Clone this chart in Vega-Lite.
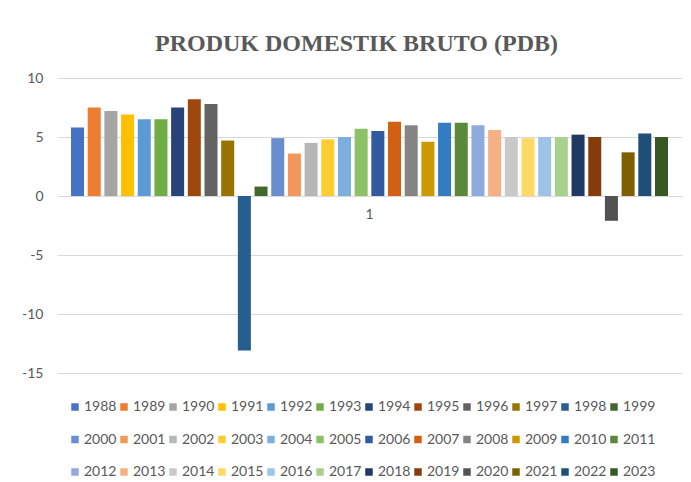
{
  "$schema": "https://vega.github.io/schema/vega-lite/v6.json",
  "width": 625,
  "height": 295,
  "autosize": {"type": "none"},
  "padding": {"left": 57, "top": 78, "right": 9, "bottom": 109},
  "background": "white",
  "title": {
    "text": "PRODUK DOMESTIK BRUTO (PDB)",
    "font": "Liberation Serif",
    "fontSize": 24,
    "fontWeight": "bold",
    "color": "#595959",
    "anchor": "middle",
    "baseline": "alphabetic",
    "offset": 27,
    "dy": 31,
    "dx": -13
  },
  "data": {
    "values": [
      {"cat": "1", "year": "1988", "pdb": 5.8},
      {"cat": "1", "year": "1989", "pdb": 7.5},
      {"cat": "1", "year": "1990", "pdb": 7.2},
      {"cat": "1", "year": "1991", "pdb": 6.9},
      {"cat": "1", "year": "1992", "pdb": 6.5},
      {"cat": "1", "year": "1993", "pdb": 6.5},
      {"cat": "1", "year": "1994", "pdb": 7.5},
      {"cat": "1", "year": "1995", "pdb": 8.2},
      {"cat": "1", "year": "1996", "pdb": 7.8},
      {"cat": "1", "year": "1997", "pdb": 4.7},
      {"cat": "1", "year": "1998", "pdb": -13.1},
      {"cat": "1", "year": "1999", "pdb": 0.8},
      {"cat": "1", "year": "2000", "pdb": 4.9},
      {"cat": "1", "year": "2001", "pdb": 3.6},
      {"cat": "1", "year": "2002", "pdb": 4.5},
      {"cat": "1", "year": "2003", "pdb": 4.8},
      {"cat": "1", "year": "2004", "pdb": 5.0},
      {"cat": "1", "year": "2005", "pdb": 5.7},
      {"cat": "1", "year": "2006", "pdb": 5.5},
      {"cat": "1", "year": "2007", "pdb": 6.3},
      {"cat": "1", "year": "2008", "pdb": 6.0},
      {"cat": "1", "year": "2009", "pdb": 4.6},
      {"cat": "1", "year": "2010", "pdb": 6.2},
      {"cat": "1", "year": "2011", "pdb": 6.2},
      {"cat": "1", "year": "2012", "pdb": 6.0},
      {"cat": "1", "year": "2013", "pdb": 5.6},
      {"cat": "1", "year": "2014", "pdb": 5.0},
      {"cat": "1", "year": "2015", "pdb": 4.9},
      {"cat": "1", "year": "2016", "pdb": 5.0},
      {"cat": "1", "year": "2017", "pdb": 5.0},
      {"cat": "1", "year": "2018", "pdb": 5.2},
      {"cat": "1", "year": "2019", "pdb": 5.0},
      {"cat": "1", "year": "2020", "pdb": -2.1},
      {"cat": "1", "year": "2021", "pdb": 3.7},
      {"cat": "1", "year": "2022", "pdb": 5.3},
      {"cat": "1", "year": "2023", "pdb": 5.0}
    ]
  },
  "mark": {"type": "bar"},
  "encoding": {
    "x": {
      "field": "cat",
      "type": "nominal",
      "scale": {"paddingInner": 0, "paddingOuter": 0},
      "axis": {
        "title": null,
        "domain": false,
        "ticks": false,
        "labelAngle": 0,
        "labelFont": "Lato",
        "labelFontSize": 14,
        "labelColor": "#595959",
        "labelPadding": 10,
        "offset": -176
      }
    },
    "xOffset": {
      "field": "year",
      "type": "nominal",
      "scale": {"paddingInner": 0.22, "paddingOuter": 0.84}
    },
    "y": {
      "field": "pdb",
      "type": "quantitative",
      "scale": {"domain": [-15, 10], "nice": false, "zero": false},
      "axis": {
        "title": null,
        "values": [-15, -10, -5, 0, 5, 10],
        "labelExpr": "toString(datum.value)",
        "domain": false,
        "ticks": false,
        "grid": true,
        "gridColor": "#d9d9d9",
        "gridWidth": 1,
        "labelFont": "Lato",
        "labelFontSize": 14,
        "labelColor": "#595959",
        "labelPadding": 14
      }
    },
    "color": {
      "field": "year",
      "type": "nominal",
      "scale": {
        "range": [
          "#4472C4", "#ED7D31", "#A5A5A5", "#FFC000", "#5B9BD5", "#70AD47",
          "#264478", "#9E480E", "#636363", "#997300", "#255E91", "#43682B",
          "#698ED0", "#F1975A", "#B7B7B7", "#FFCD33", "#7CAFDD", "#8CC168",
          "#335AA1", "#D26012", "#848484", "#CC9A00", "#327DC2", "#5A8A39",
          "#8FAADC", "#F4B183", "#C9C9C9", "#FFD966", "#9DC3E6", "#A9D18E",
          "#203864", "#843C0C", "#525252", "#7F6000", "#1F4E79", "#385723"
        ]
      },
      "legend": {
        "title": null,
        "orient": "none",
        "legendX": 11,
        "legendY": 322,
        "direction": "horizontal",
        "columns": 12,
        "symbolLimit": 0,
        "symbolType": "square",
        "symbolSize": 56,
        "symbolStrokeWidth": 0,
        "symbolOpacity": 1,
        "labelFont": "Lato",
        "labelFontSize": 14,
        "labelColor": "#595959",
        "labelOffset": 2,
        "columnPadding": -0.8,
        "rowPadding": 18.5,
        "padding": 0
      }
    }
  },
  "config": {
    "view": {"stroke": null},
    "axis": {"zindex": 0}
  }
}
